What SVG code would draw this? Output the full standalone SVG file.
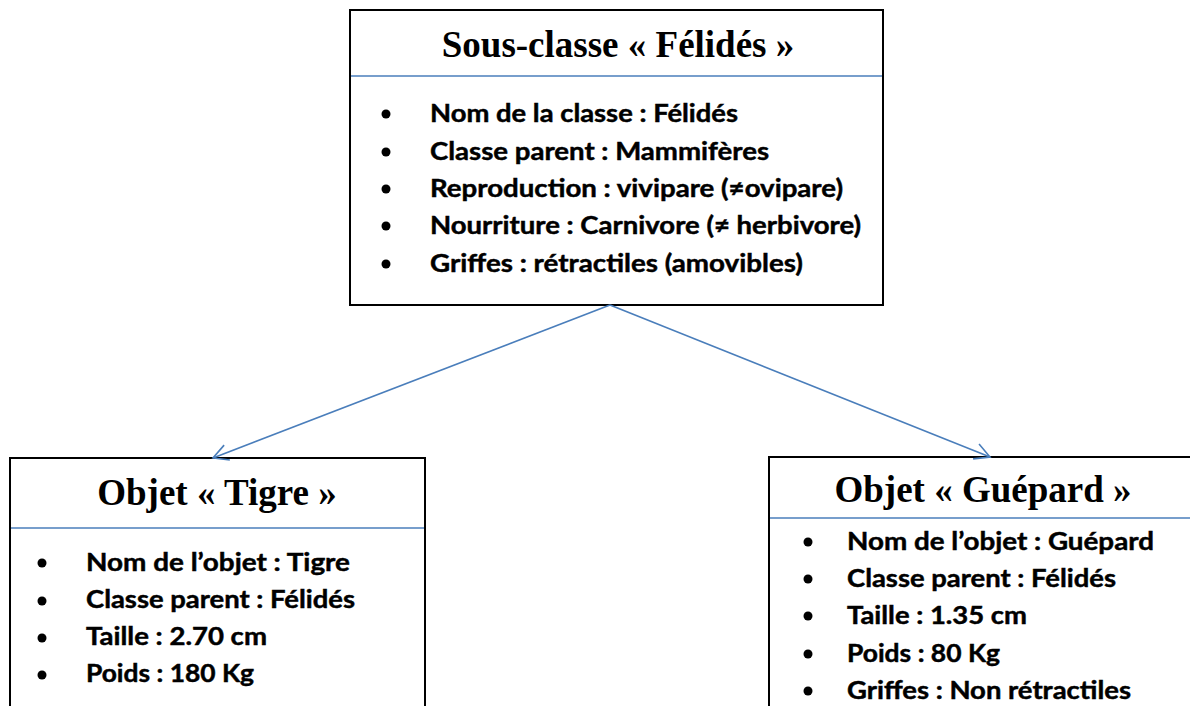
<svg xmlns="http://www.w3.org/2000/svg" width="1190" height="706" viewBox="0 0 1190 706">
  <style>
    .box { fill: #ffffff; stroke: #000000; stroke-width: 2; }
    .divider { stroke: #4a7ebb; stroke-width: 1.6; }
    .title { font-family: "Liberation Serif", "Times New Roman", serif; font-weight: bold; font-size: 37px; fill: #000; text-anchor: middle; }
    .item { font-family: Lato, "Liberation Sans", sans-serif; font-weight: bold; font-size: 24px; fill: #000; stroke: #000; stroke-width: 0.45; }
    .bullet { fill: #000; }
    .link { fill: none; stroke: #4a7ebb; stroke-width: 1.6; }
  </style>
  <defs>
    <marker id="arrow" viewBox="0 0 20 20" refX="18" refY="10" markerWidth="20" markerHeight="20" markerUnits="userSpaceOnUse" orient="auto">
      <path d="M3,2 L18,10 L3,18" fill="none" stroke="#4a7ebb" stroke-width="1.6"/>
    </marker>
  </defs>
  <rect width="1190" height="706" fill="#ffffff"/>

  <!-- Parent class -->
  <g id="felides">
    <rect class="box" x="350" y="10" width="533" height="295"/>
    <line class="divider" x1="351" y1="76" x2="882" y2="76"/>
    <text class="title" x="618" y="57">Sous-classe « Félidés »</text>
    <circle class="bullet" cx="386" cy="114" r="4.5"/>
    <circle class="bullet" cx="386" cy="152" r="4.5"/>
    <circle class="bullet" cx="386" cy="189" r="4.5"/>
    <circle class="bullet" cx="386" cy="226" r="4.5"/>
    <circle class="bullet" cx="386" cy="264" r="4.5"/>
    <text class="item" x="430" y="122" textLength="308" lengthAdjust="spacingAndGlyphs">Nom de la classe : Félidés</text>
    <text class="item" x="430" y="160" textLength="339" lengthAdjust="spacingAndGlyphs">Classe parent : Mammifères</text>
    <text class="item" x="430" y="197" textLength="413" lengthAdjust="spacingAndGlyphs">Reproduction : vivipare (≠ovipare)</text>
    <text class="item" x="430" y="234" textLength="431" lengthAdjust="spacingAndGlyphs">Nourriture : Carnivore (≠ herbivore)</text>
    <text class="item" x="430" y="272" textLength="373" lengthAdjust="spacingAndGlyphs">Griffes : rétractiles (amovibles)</text>
  </g>

  <!-- Object: Tigre -->
  <g id="tigre">
    <rect class="box" x="10" y="458" width="415" height="260"/>
    <line class="divider" x1="11" y1="528" x2="424" y2="528"/>
    <text class="title" x="217" y="505">Objet « Tigre »</text>
    <circle class="bullet" cx="42" cy="563" r="4.5"/>
    <circle class="bullet" cx="42" cy="601" r="4.5"/>
    <circle class="bullet" cx="42" cy="638" r="4.5"/>
    <circle class="bullet" cx="42" cy="675" r="4.5"/>
    <text class="item" x="86" y="571" textLength="264" lengthAdjust="spacingAndGlyphs">Nom de l’objet : Tigre</text>
    <text class="item" x="86" y="608" textLength="269" lengthAdjust="spacingAndGlyphs">Classe parent : Félidés</text>
    <text class="item" x="86" y="645" textLength="181" lengthAdjust="spacingAndGlyphs">Taille : 2.70 cm</text>
    <text class="item" x="86" y="682" textLength="168" lengthAdjust="spacingAndGlyphs">Poids : 180 Kg</text>
  </g>

  <!-- Object: Guépard -->
  <g id="guepard">
    <rect class="box" x="769" y="457" width="440" height="260"/>
    <line class="divider" x1="770" y1="518" x2="1190" y2="518"/>
    <text class="title" x="983" y="502">Objet « Guépard »</text>
    <circle class="bullet" cx="808" cy="542" r="4.5"/>
    <circle class="bullet" cx="808" cy="579" r="4.5"/>
    <circle class="bullet" cx="808" cy="616" r="4.5"/>
    <circle class="bullet" cx="808" cy="654" r="4.5"/>
    <circle class="bullet" cx="808" cy="691" r="4.5"/>
    <text class="item" x="847" y="550" textLength="307" lengthAdjust="spacingAndGlyphs">Nom de l’objet : Guépard</text>
    <text class="item" x="847" y="587" textLength="269" lengthAdjust="spacingAndGlyphs">Classe parent : Félidés</text>
    <text class="item" x="847" y="624" textLength="180" lengthAdjust="spacingAndGlyphs">Taille : 1.35 cm</text>
    <text class="item" x="847" y="662" textLength="153" lengthAdjust="spacingAndGlyphs">Poids : 80 Kg</text>
    <text class="item" x="847" y="699" textLength="284" lengthAdjust="spacingAndGlyphs">Griffes : Non rétractiles</text>
  </g>

  <!-- Inheritance connectors -->
  <g id="connectors">
    <line class="link" x1="610" y1="305" x2="213" y2="458" marker-end="url(#arrow)"/>
    <line class="link" x1="610" y1="305" x2="990" y2="457" marker-end="url(#arrow)"/>
  </g>
</svg>
